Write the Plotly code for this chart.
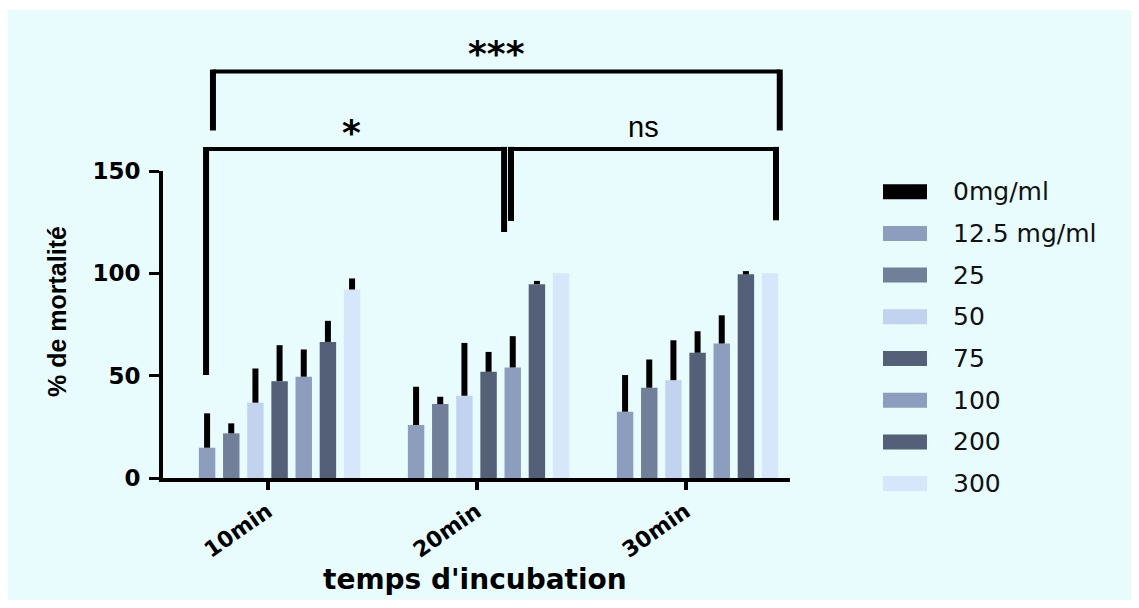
import plotly.graph_objects as go

# ---------------- data ----------------
categories = ["10min", "20min", "30min"]
series_names = ["0mg/ml", "12.5 mg/ml", "25", "50", "75", "100", "200", "300"]

v_0 = [0, 0, 0]
v_12_5 = [14.8, 25.9, 32.4]
v_25 = [21.8, 36.1, 44.1]
v_50 = [36.8, 40.2, 47.8]
v_75 = [47.3, 51.9, 61.2]
v_100 = [49.5, 54.0, 65.7]
v_200 = [66.5, 94.7, 99.5]
v_300 = [92.1, 100, 100]

e_0 = [None, None, None]
e_12_5 = [16.8, 18.7, 17.9]
e_25 = [4.9, 3.6, 13.8]
e_50 = [16.7, 25.8, 19.5]
e_75 = [17.6, 9.7, 10.5]
e_100 = [13.3, 15.3, 13.8]
e_200 = [10.3, 1.6, 1.6]
e_300 = [5.4, None, None]

values = [v_0, v_12_5, v_25, v_50, v_75, v_100, v_200, v_300]
errors = [e_0, e_12_5, e_25, e_50, e_75, e_100, e_200, e_300]
colors = ["#000000", "#8c9dbd", "#717f98", "#c2d3f0", "#536078", "#8c9dbd", "#536078", "#d6e6fb"]

y_ticks = [0, 50, 100, 150]

# significance brackets (x in category units, y in % units)
brackets = [
    dict(x0=-0.261, x1=2.451, top=198.6, b0=169.8, b1=169.8, label="***", lx=1.098, ly=207.9),
    dict(x0=-0.294, x1=1.132, top=160.8, b0=50.3, b1=120.2, label="*", lx=0.404, ly=169.3),
    dict(x0=1.165, x1=2.433, top=160.8, b0=125.6, b1=125.9, label="ns", lx=1.797, ly=171.4),
]

# ---------------- layout geometry ----------------
W, H = 1139, 608
L, R, T, B = 163, 790, 171, 478
XR = [-0.5, 2.5]
YR = [0, 150]


def px_x(px):
    return (px - L) / (R - L)


def px_y(py):
    return (B - py) / (B - T)


def dx(x):
    return (x - XR[0]) / (XR[1] - XR[0])


def dy(y):
    return (y - YR[0]) / (YR[1] - YR[0])


BOLD = "DejaVu Sans, sans-serif"
ARIAL = "Liberation Sans, Arial, sans-serif"

fig = go.Figure()
for name, vals, errs, col in zip(series_names, values, errors, colors):
    fig.add_trace(go.Bar(
        x=categories, y=vals, name=name,
        marker=dict(color=col, line=dict(width=0)),
        error_y=dict(type="data", symmetric=False, array=errs,
                     arrayminus=[0 if e is not None else None for e in errs],
                     color="#000000", thickness=6, width=0, visible=True),
        showlegend=False,
    ))

shapes = []
annotations = []

# background panel
shapes.append(dict(type="rect", xref="paper", yref="paper",
                   x0=px_x(8), x1=px_x(1131), y0=px_y(600), y1=px_y(10),
                   fillcolor="#e8fcfd", line=dict(width=0), layer="below"))

# brackets
for b in brackets:
    shapes.append(dict(type="line", xref="paper", yref="paper",
                       x0=dx(b["x0"]), x1=dx(b["x1"]), y0=dy(b["top"]), y1=dy(b["top"]),
                       line=dict(color="black", width=4)))
    shapes.append(dict(type="line", xref="paper", yref="paper",
                       x0=dx(b["x0"]), x1=dx(b["x0"]), y0=dy(b["top"]) + 2 / (B - T), y1=dy(b["b0"]),
                       line=dict(color="black", width=6)))
    shapes.append(dict(type="line", xref="paper", yref="paper",
                       x0=dx(b["x1"]), x1=dx(b["x1"]), y0=dy(b["top"]) + 2 / (B - T), y1=dy(b["b1"]),
                       line=dict(color="black", width=6)))
    if b["label"] == "ns":
        annotations.append(dict(xref="paper", yref="paper", x=dx(b["lx"]), y=dy(b["ly"]),
                                text=b["label"], showarrow=False, xanchor="center", yanchor="middle",
                                font=dict(family=ARIAL, size=29, color="black")))
    else:
        annotations.append(dict(xref="paper", yref="paper", x=dx(b["lx"]), y=dy(b["ly"]),
                                text="<b>" + b["label"] + "</b>", showarrow=False,
                                xanchor="center", yanchor="middle", yshift=-1,
                                font=dict(family=BOLD, size=36, color="black")))

# custom legend
leg_y0, leg_dy = 191.7, 41.7
for i, (name, col) in enumerate(zip(series_names, colors)):
    cy = leg_y0 + i * leg_dy
    shapes.append(dict(type="rect", xref="paper", yref="paper",
                       x0=px_x(883), x1=px_x(927), y0=px_y(cy + 7.5), y1=px_y(cy - 7.5),
                       fillcolor=col, line=dict(width=0)))
    annotations.append(dict(xref="paper", yref="paper", x=px_x(951), y=px_y(cy),
                            text=name, showarrow=False, xanchor="left", yanchor="middle",
                            font=dict(family=BOLD, size=25, color="#111111")))

# axis titles
annotations.append(dict(xref="paper", yref="paper", x=px_x(57), y=px_y(312),
                        text="<b>% de mortalité</b>", showarrow=False, textangle=-90,
                        xanchor="center", yanchor="middle",
                        font=dict(family=ARIAL, size=25, color="black")))
annotations.append(dict(xref="paper", yref="paper", x=px_x(475), y=px_y(579),
                        text="<b>temps d'incubation</b>", showarrow=False,
                        xanchor="center", yanchor="middle",
                        font=dict(family=BOLD, size=28, color="black")))

fig.update_layout(
    width=W, height=H,
    margin=dict(l=L, r=W - R, t=T, b=H - B, pad=0),
    paper_bgcolor="white",
    plot_bgcolor="rgba(0,0,0,0)",
    barmode="group", bargap=0.075, bargroupgap=0.32,
    shapes=shapes, annotations=annotations,
    showlegend=False,
    xaxis=dict(range=XR, showline=True, linecolor="black", linewidth=4,
               ticks="outside", ticklen=8, tickwidth=4, tickcolor="black",
               tickangle=-35, showgrid=False, zeroline=False,
               tickfont=dict(family=BOLD, size=22, color="black", weight="bold")),
    yaxis=dict(range=YR, tickvals=y_ticks, showline=True, linecolor="black", linewidth=4,
               ticks="outside", ticklen=10, tickwidth=3, tickcolor="black",
               showgrid=False, zeroline=False, ticklabelstandoff=4,
               tickfont=dict(family=BOLD, size=23, color="black", weight="bold")),
)

fig.write_html("out.html", config={"displayModeBar": False},
               post_script="document.body.style.margin='0';")
